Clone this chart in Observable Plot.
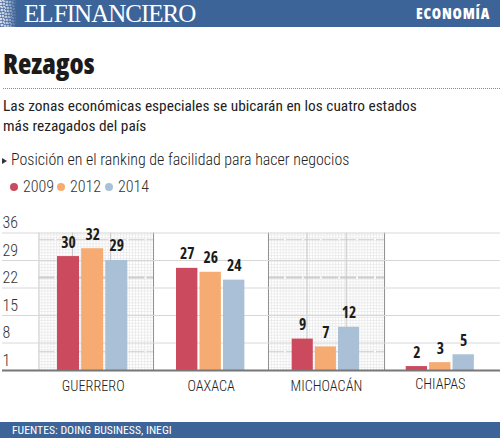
<!DOCTYPE html>
<html lang="es">
<head>
<meta charset="utf-8">
<script src="https://cdn.jsdelivr.net/npm/d3@7"></script>
<script src="https://cdn.jsdelivr.net/npm/@observablehq/plot@0.6"></script>
<style>
html,body{margin:0;padding:0;background:#fff;}
#page{position:relative;width:500px;height:438px;overflow:hidden;font-family:"Roboto Condensed",sans-serif;}
#page>div{position:absolute;white-space:nowrap;}
#band{left:0;top:0;width:500px;height:27px;background:#3d6498;}
#globe{left:0;top:0;width:17px;height:27px;background:
  repeating-linear-gradient(8deg,rgba(60,95,150,.65) 0 1px,transparent 1px 3px),
  repeating-linear-gradient(80deg,rgba(60,95,150,.5) 0 1px,transparent 1px 3px),
  linear-gradient(90deg,#d8e1ec 0,#aebfd5 45%,#3d6498 100%);}
#logo{left:24px;top:0;font:400 25px/27px "Liberation Serif",serif;color:#fff;letter-spacing:-1px;word-spacing:-3px;}
#section{left:416px;top:4px;font:800 15px/19px "Open Sans",sans-serif;font-stretch:75%;color:#fff;letter-spacing:.8px;}
#title{left:3px;top:46px;font:800 27.5px/36px "Open Sans",sans-serif;font-stretch:75%;color:#1b1b1b;}
#rule{left:3px;top:88px;width:497px;height:0;border-top:1px dotted #8a8a8a;}
#sub{left:3px;top:96px;font-weight:400;font-size:15.35px;line-height:20px;color:#222;}
#tri{left:2px;top:158px;width:0;height:0;border-left:5px solid #333;border-top:3px solid transparent;border-bottom:3px solid transparent;}
#measure{left:11px;top:150px;font-weight:300;font-size:15.95px;line-height:20px;color:#222;}
#legend{left:0;top:177px;width:200px;height:20px;font-weight:300;font-size:16px;line-height:19px;color:#333;}
#legend span{position:absolute;top:0;}
#legend i{display:inline-block;width:8px;height:8px;border-radius:50%;margin-right:5px;vertical-align:1px;}
#foot{left:0;top:422px;width:500px;height:16px;background:#3d6498;}
#source{left:12px;top:423px;font-weight:400;font-size:11.7px;line-height:14px;color:#fff;}
#chart{left:0;top:212px;}
#chart .num text{font-stretch:75%;}
</style>
</head>
<body>
<div id="page">
<div id="band"></div><div id="globe"></div>
<div id="logo">EL FINANCIERO</div>
<div id="section">ECONOMÍA</div>
<div id="title">Rezagos</div>
<div id="rule"></div>
<div id="sub">Las zonas económicas especiales se ubicarán en los cuatro estados<br>más rezagados del país</div>
<div id="tri"></div>
<div id="measure">Posición en el ranking de facilidad para hacer negocios</div>
<div id="legend"></div>
<div id="chart"></div>
<div id="foot"></div>
<div id="source">FUENTES: DOING BUSINESS, INEGI</div>
</div>
<script>
const states = ["GUERRERO", "OAXACA", "MICHOACÁN", "CHIAPAS"];
const years = ["2009", "2012", "2014"];
const colors = ["#cc4a5e", "#f6ab72", "#a9c0d6"];
const v2009 = [30, 27, 9, 2];
const v2012 = [32, 26, 7, 3];
const v2014 = [29, 24, 12, 5];
const yTicks = [1, 8, 15, 22, 29, 36];

const rows = states.flatMap((state, g) =>
  [v2009, v2012, v2014].map((vals, i) => ({state, g, i, year: years[i], value: vals[g]})));
const barStart = d => d.g + d.i * 0.203;
const barEnd = d => d.g + d.i * 0.203 + 0.185;

const legendLeft = [10, 57, 105];
document.getElementById("legend").innerHTML = years.map((y, i) =>
  `<span style="left:${legendLeft[i]}px"><i style="background:${colors[i]}"></i>${y}</span>`).join("");

// Graph-paper panels behind Guerrero and Michoacán
const panels = [
  {x1: -0.16, x2: 0.807, inner: [0.126, 0.445], edge: "#d0d0d0"},
  {x1: 1.795, x2: 2.81, inner: [2.13, 2.474], edge: "#8f8f8f"}
];
const paperMarks = panels.flatMap(p => [
  Plot.ruleX(d3.range(p.x1, p.x2, 0.0255), {y1: 1, y2: 36, stroke: "#e6e6e6", strokeWidth: 0.7}),
  Plot.ruleY(d3.range(1, 36, 0.75), {x1: p.x1, x2: p.x2, stroke: "#e6e6e6", strokeWidth: 0.7}),
  Plot.ruleY([34.3, 5.8], {x1: p.x1, x2: p.x2, stroke: "#d8d8d8", strokeWidth: 1.2, strokeDasharray: "16,2"}),
  Plot.ruleY([24.7], {x1: p.x1, x2: p.x2, stroke: "#cccccc", strokeWidth: 2, strokeDasharray: "16,2"}),
  Plot.ruleX(p.inner, {y1: 1, y2: 36, stroke: "#c8c8c8", strokeWidth: 1}),
  Plot.ruleX([p.x1], {y1: 1, y2: 36, stroke: p.edge, strokeWidth: 1}),
  Plot.ruleX([p.x2], {y1: 1, y2: 36, stroke: "#8f8f8f", strokeWidth: 1})
]);

const chart = Plot.plot({
  width: 500, height: 208,
  marginLeft: 2, marginRight: 0, marginTop: 0, marginBottom: 0,
  x: {type: "linear", domain: [-0.164, 0, 1, 2, 3, 4], range: [38, 57, 176, 291.7, 405.7, 521], axis: null},
  y: {domain: [1, 36], range: [158, 20.5]},
  style: {background: "transparent", fontFamily: "'Roboto Condensed', sans-serif"},
  marks: [
    ...paperMarks,
    Plot.ruleY(yTicks.slice(1), {stroke: "#d8d8d8", strokeWidth: 1}),
    Plot.axisY({ticks: yTicks, tickSize: 0, tickPadding: 0, textAnchor: "start", dy: -10, label: null, fontSize: 16, fontWeight: 300, fill: "#333"}),
    Plot.rectY(rows, {x1: barStart, x2: barEnd, y1: 1, y2: "value", fill: d => colors[d.i]}),
    Plot.ruleY([1], {stroke: "#777", strokeWidth: 2}),
    Plot.text(rows, {className: "num", x: d => (barStart(d) + barEnd(d)) / 2, y: "value", text: d => String(d.value), dy: -14, fontFamily: "'Open Sans', sans-serif", fontSize: 15.5, fontWeight: 700, fill: "#1b1b1b"}),
    Plot.text(states.slice(0, 3), {x: (d, i) => i + 0.3, y: 1, text: d => d, dy: 16, fontSize: 14.3, fontWeight: 300, fill: "#222"}),
    Plot.text(states.slice(3), {x: () => 3.296, y: 1, text: d => d, dy: 14, fontSize: 14.3, fontWeight: 300, fill: "#222"})
  ]
});
document.getElementById("chart").append(chart);
</script>
</body>
</html>
